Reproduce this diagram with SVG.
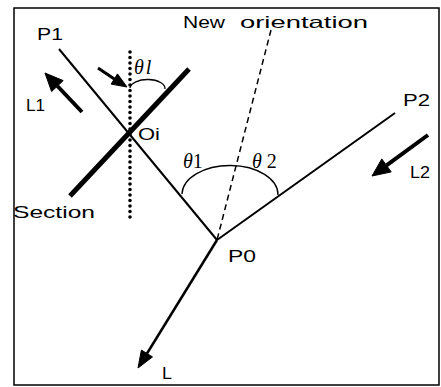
<svg xmlns="http://www.w3.org/2000/svg" width="441" height="387" viewBox="0 0 441 387">
<style>
.lbl{font-family:"Liberation Sans",Arial,sans-serif;font-size:16.5px;fill:#000}
.gk{font-family:"Liberation Serif","Times New Roman",serif;font-size:20px;fill:#000}
.ln{stroke:#000;fill:none}
.head{fill:#000;stroke:#000;stroke-width:1;stroke-linejoin:miter}
</style>
<rect x="0" y="0" width="441" height="387" fill="#fff"/>
<rect id="frame" x="14" y="8" width="425" height="377" fill="none" stroke="#000" stroke-width="1.5"/>
<g id="connectors">
  <line class="ln" x1="59" y1="49" x2="217" y2="240" stroke-width="2"/>
  <line class="ln" x1="395" y1="113" x2="217" y2="240" stroke-width="2"/>
  <line class="ln" x1="271" y1="30" x2="217" y2="240" stroke-width="1.5" stroke-dasharray="6 4"/>
  <line class="ln" x1="217" y1="240" x2="147" y2="353.5" stroke-width="2.5"/>
  <polygon class="head" points="138,368 152.5,356.9 141.4,350.1"/>
  <line class="ln" x1="189" y1="69" x2="70" y2="196" stroke-width="5"/>
  <line class="ln" x1="130" y1="52" x2="130" y2="218" stroke-width="3.6" stroke-linecap="round" stroke-dasharray="0 5.5"/>
  <line class="ln" x1="82" y1="112" x2="57.4" y2="86" stroke-width="4"/>
  <polygon class="head" points="45,73 63.2,80.6 51.6,91.6"/>
  <line class="ln" x1="98" y1="68" x2="114.3" y2="79" stroke-width="3"/>
  <polygon class="head" points="127,87 111.1,84.1 117.5,73.9"/>
  <line class="ln" x1="428" y1="135" x2="386.5" y2="165.4" stroke-width="4"/>
  <polygon class="head" points="372,176 391.2,171.9 381.8,158.9"/>
  <path class="ln" d="M182,194 A48,29 0 0 1 278,195" stroke-width="1.3"/>
  <path class="ln" d="M130,88 A17.5,9 0 0 1 165,89" stroke-width="1.3"/>
</g>
<g id="label-new-orientation">
  <text class="lbl" x="183" y="28" textLength="42" lengthAdjust="spacingAndGlyphs">New</text>
  <text class="lbl" x="240" y="28" textLength="128" lengthAdjust="spacingAndGlyphs">orientation</text>
</g>
<g id="node-P1"><text class="lbl" x="37" y="40" textLength="26" lengthAdjust="spacingAndGlyphs">P1</text></g>
<g id="node-L1"><text class="lbl" x="26" y="111" textLength="19" lengthAdjust="spacingAndGlyphs">L1</text></g>
<g id="node-Oi"><text class="lbl" x="138" y="140" textLength="22" lengthAdjust="spacingAndGlyphs">Oi</text></g>
<g id="angle-theta-l"><text class="gk" x="134" y="74" font-style="italic">θ<tspan dx="2">l</tspan></text></g>
<g id="angle-theta1"><text class="gk" x="183" y="168"><tspan font-style="italic">θ</tspan>1</text></g>
<g id="angle-theta2"><text class="gk" x="252" y="168"><tspan font-style="italic">θ</tspan> 2</text></g>
<g id="node-P2"><text class="lbl" x="403" y="106" textLength="27" lengthAdjust="spacingAndGlyphs">P2</text></g>
<g id="node-L2"><text class="lbl" x="410" y="178" textLength="20" lengthAdjust="spacingAndGlyphs">L2</text></g>
<g id="node-Section"><text class="lbl" x="13" y="218" textLength="82" lengthAdjust="spacingAndGlyphs">Section</text></g>
<g id="node-P0"><text class="lbl" x="228" y="262" textLength="28" lengthAdjust="spacingAndGlyphs">P0</text></g>
<g id="node-L"><text class="lbl" x="162" y="379" textLength="10" lengthAdjust="spacingAndGlyphs">L</text></g>
</svg>
